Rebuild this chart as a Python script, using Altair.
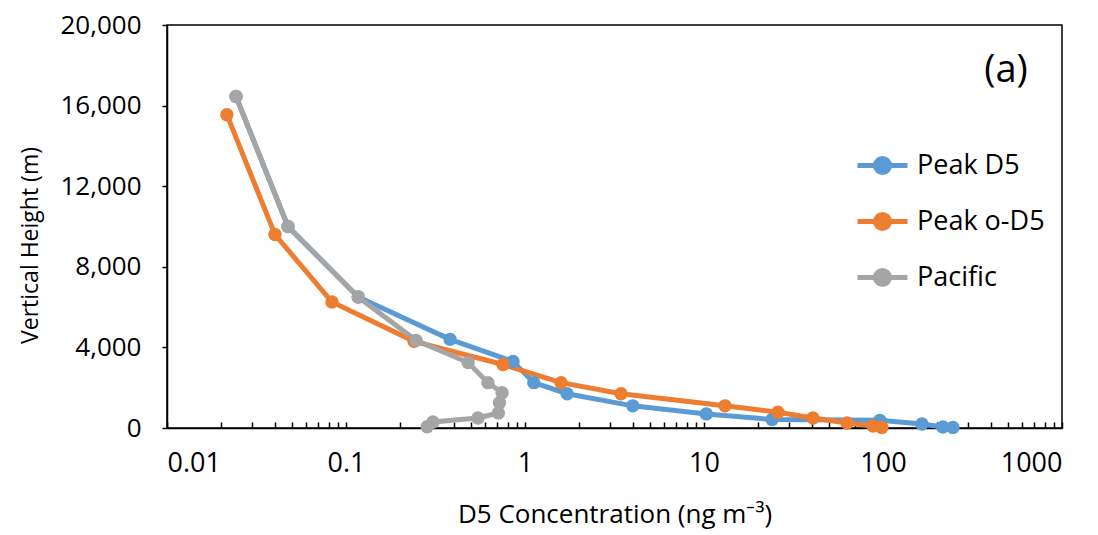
import altair as alt
import pandas as pd

# ---- data ----
series_names = ["Peak D5", "Peak o-D5", "Pacific"]
series_colors = ["#5B9BD5", "#ED7D31", "#A5A5A5"]

peak_d5_conc = [0.0243, 0.0474, 0.117, 0.381, 0.857, 1.12, 1.72, 4.0, 10.3, 24.0, 96.0, 165.0, 216.0, 246.0]
peak_d5_height = [16450, 10000, 6500, 4400, 3300, 2250, 1700, 1100, 700, 420, 380, 200, 50, 30]

peak_od5_conc = [0.0216, 0.0401, 0.0835, 0.240, 0.753, 1.59, 3.44, 13.1, 25.9, 40.6, 63.0, 88.0, 98.6]
peak_od5_height = [15550, 9600, 6250, 4300, 3150, 2250, 1700, 1100, 780, 500, 250, 100, 30]

pacific_conc = [0.0243, 0.0474, 0.117, 0.246, 0.481, 0.621, 0.745, 0.72, 0.71, 0.546, 0.306, 0.284]
pacific_height = [16450, 10000, 6500, 4350, 3250, 2250, 1750, 1250, 750, 500, 300, 60]

x_label_values = [0.01, 0.1, 1, 10, 100, 1000]
x_minor_values = [m * d for d in [0.01, 0.1, 1, 10, 100] for m in range(1, 10)] + [1000]
y_tick_values = [0, 4000, 8000, 12000, 16000, 20000]
panel_label = ["(a)"]

rows = []
for name, xs, ys in zip(series_names,
                        [peak_d5_conc, peak_od5_conc, pacific_conc],
                        [peak_d5_height, peak_od5_height, pacific_height]):
    for i, (xv, yv) in enumerate(zip(xs, ys)):
        rows.append({"series": name, "conc": xv, "height": yv, "idx": i})
df = pd.DataFrame(rows)

W, H = 895, 403
FONT = "Open Sans"

xscale = alt.Scale(type="log", domain=[0.01, 1000], nice=False)
yscale = alt.Scale(domain=[0, 20000], nice=False)

legend_path = ("M-1,0L1,0M-0.28,0A0.28,0.28,0,1,1,0.28,0"
               "A0.28,0.28,0,1,1,-0.28,0Z")

color = alt.Color(
    "series:N",
    scale=alt.Scale(domain=series_names, range=series_colors),
    sort=series_names,
    legend=alt.Legend(
        title=None, orient="none", legendX=688, legendY=113, padding=0,
        symbolType=legend_path, symbolSize=2500, symbolStrokeWidth=5,
        labelFont=FONT, labelFontSize=27, labelColor="black",
        labelOffset=7, rowPadding=11, labelLimit=300,
    ),
)

y_enc = alt.Y(
    "height:Q", scale=yscale,
    axis=alt.Axis(
        values=y_tick_values, format=",d", grid=False,
        tickSize=5, tickColor="black", tickWidth=1.5,
        domainColor="black", domainWidth=1.5,
        labelFont=FONT, labelFontSize=26, labelColor="black", labelPadding=21,
        title="Vertical Height (m)", titleFont=FONT, titleFontSize=23,
        titleFontWeight="normal", titleColor="black",
        titleX=-137, titleY=220, titleBaseline="middle", titleAngle=270,
    ),
)

lines = alt.Chart(df).mark_line(strokeWidth=5).encode(
    x=alt.X("conc:Q", scale=xscale,
            axis=alt.Axis(orient="top", offset=-H, values=x_minor_values,
                          labels=False, domain=False, grid=False, title=None,
                          tickSize=6, tickColor="black", tickWidth=1.5)),
    y=y_enc,
    color=color,
    order=alt.Order("idx:Q"),
)

points = alt.Chart(df).mark_circle(size=180, opacity=1).encode(
    x=alt.X("conc:Q", scale=xscale,
            axis=alt.Axis(orient="bottom", values=x_label_values, format="~g",
                          ticks=False, grid=False,
                          domainColor="black", domainWidth=1.5,
                          labelFont=FONT, labelFontSize=27, labelColor="black",
                          labelPadding=22,
                          title="D5 Concentration (ng m\u207b\u00b3)", titleFont=FONT,
                          titleFontSize=26, titleFontWeight="normal",
                          titleColor="black", titlePadding=25)),
    y=alt.Y("height:Q", scale=yscale),
    color=color,
)

label = alt.Chart(pd.DataFrame({"t": panel_label})).mark_text(
    font=FONT, fontSize=38, color="black", align="center", baseline="middle"
).encode(text="t:N", x=alt.value(839), y=alt.value(46))

chart = (
    alt.layer(lines, points, label)
    .resolve_axis(x="independent")
    .properties(width=W, height=H, autosize=alt.AutoSizeParams(type="none"),
                padding={"left": 159, "top": 17, "right": 20, "bottom": 106},
                background="white")
    .configure_view(stroke="black", strokeWidth=1.5)
)

chart.save("out.html", embed_options={"renderer": "svg", "actions": False})
